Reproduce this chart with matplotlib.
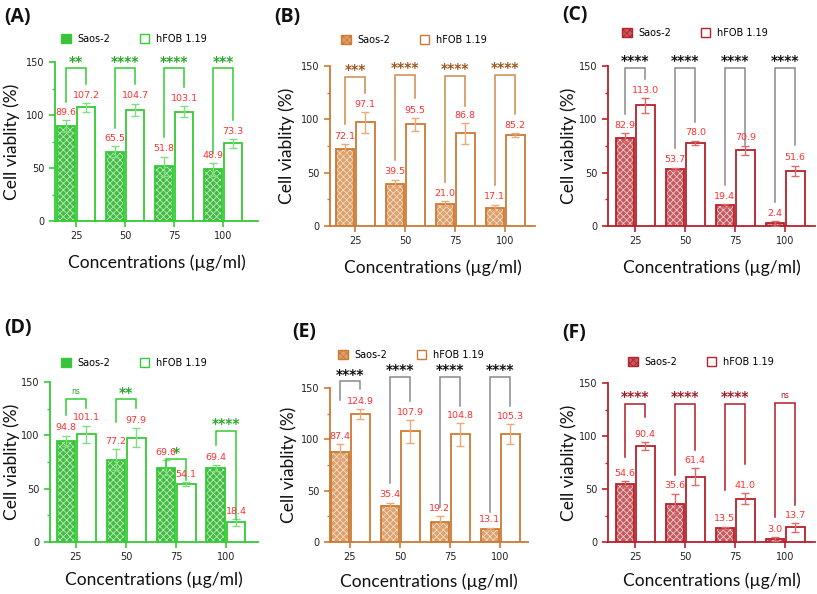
import matplotlib
matplotlib.use("Agg")
import matplotlib.pyplot as plt
from matplotlib.patches import Patch
from matplotlib.ticker import MultipleLocator
import numpy as np

plt.rcParams['hatch.linewidth'] = 0.6

# ---------------- data ----------------
conc = ['25', '50', '75', '100']

A_saos = [89.6, 65.5, 51.8, 48.9]
A_saos_err = [5.5, 5, 9, 6]
A_hfob = [107.2, 104.7, 103.1, 73.3]
A_hfob_err = [4, 6, 5, 4]
A_sig = ['**', '****', '****', '***']
A_brk_top = [144, 144, 144, 144]
A_brk_left = [112.5, 88, 79.5, 64]
A_brk_right = [129, 129, 126, 95]

B_saos = [72.1, 39.5, 21.0, 17.1]
B_saos_err = [5, 4, 2, 3]
B_hfob = [97.1, 95.5, 86.8, 85.2]
B_hfob_err = [10, 6, 10, 2]
B_sig = ['***', '****', '****', '****']
B_brk_top = [140, 141.5, 140.6, 142]
B_brk_left = [96, 62, 41.6, 38.4]
B_brk_right = [125, 120, 112.8, 104.7]

C_saos = [82.9, 53.7, 19.4, 2.4]
C_saos_err = [4, 1, 1.5, 2]
C_hfob = [113.0, 78.0, 70.9, 51.6]
C_hfob_err = [7, 2, 4.5, 5]
C_sig = ['****', '****', '****', '****']
C_brk_top = [148, 148, 148, 148]
C_brk_left = [104.7, 72.8, 38.4, 22.8]
C_brk_right = [137.8, 97.8, 76, 76]

D_saos = [94.8, 77.2, 69.6, 69.4]
D_saos_err = [5, 10, 7, 3]
D_hfob = [101.1, 97.9, 54.1, 18.4]
D_hfob_err = [8, 9, 2, 3]
D_sig = ['ns', '**', '*', '****']
D_brk_top = [133.7, 133.7, 77.5, 104]
D_brk_left = [119, 112.8, 70.6, 91]
D_brk_right = [126, 125.3, 58, 22]

E_saos = [87.4, 35.4, 19.2, 13.1]
E_saos_err = [8, 3, 6, 1]
E_hfob = [124.9, 107.9, 104.8, 105.3]
E_hfob_err = [5, 11, 11, 10]
E_sig = ['****', '****', '****', '****']
E_brk_top = [156.5, 160.7, 160.7, 160.7]
E_brk_left = [138.5, 57, 34.2, 29.3]
E_brk_right = [149, 137, 132.5, 132]

F_saos = [54.6, 35.6, 13.5, 3.0]
F_saos_err = [3, 10, 1, 2]
F_hfob = [90.4, 61.4, 41.0, 13.7]
F_hfob_err = [4, 8, 5, 4]
F_sig = ['****', '****', '****', 'ns']
F_brk_top = [130.6, 130.6, 130.6, 131]
F_brk_left = [80.2, 63, 48.8, 23.6]
F_brk_right = [118, 86.5, 74, 34.6]

series_names = ['Saos-2', 'hFOB 1.19']
panel_labels = ['(A)', '(B)', '(C)', '(D)', '(E)', '(F)']

# ---------------- styles ----------------
W, H = 817, 594
fig = plt.figure(figsize=(W / 100, H / 100), dpi=100)

green = dict(main='#33cc33', fill='#44bb44', hatch='#b8ecb8', err='#80dd80',
             brk='#33cc33', star='#2aa82a')
orange = dict(main='#cc7a33', fill='#dca06c', hatch='#f6dcc4', err='#e8aa78',
              brk='#d08a4a', star='#a0561e')
red = dict(main='#b8202c', fill='#c45a60', hatch='#f0c8c8', err='#d86a6a',
           brk='#a8202a', star='#111111')
red_f = dict(red, brk='#b01e28', star='#a01c24')
red_c = dict(red, brk='#8a8a8a', star='#111111')
orange_e = dict(orange, brk='#8a8a8a', star='#111111')

# axes rects in pixel coords: left, right, top, bottom ; xlim ; legend pos ; label pos
panels = [
    dict(data=(A_saos, A_saos_err, A_hfob, A_hfob_err, A_sig, A_brk_top, A_brk_left, A_brk_right),
         col=green, rect=(55, 258, 62, 221), xlim=(-0.43, 3.71), leg=(61, 39), lab=(4, 17), ylab=12, xlab=263),
    dict(data=(B_saos, B_saos_err, B_hfob, B_hfob_err, B_sig, B_brk_top, B_brk_left, B_brk_right),
         col=orange, rect=(330, 535, 66, 226), xlim=(-0.5, 3.6), leg=(341, 40), lab=(274, 17), ylab=287, xlab=268),
    dict(data=(C_saos, C_saos_err, C_hfob, C_hfob_err, C_sig, C_brk_top, C_brk_left, C_brk_right),
         col=red_c, rect=(608, 815, 66, 226), xlim=(-0.54, 3.6), leg=(622, 33), lab=(562, 15), ylab=569, xlab=268),
    dict(data=(D_saos, D_saos_err, D_hfob, D_hfob_err, D_sig, D_brk_top, D_brk_left, D_brk_right),
         col=green, rect=(50, 258, 382, 542), xlim=(-0.52, 3.64), leg=(61, 363), lab=(4, 328), ylab=12, xlab=580),
    dict(data=(E_saos, E_saos_err, E_hfob, E_hfob_err, E_sig, E_brk_top, E_brk_left, E_brk_right),
         col=orange_e, rect=(330, 528, 388, 542), xlim=(-0.4, 3.56), leg=(338, 355), lab=(292, 332), ylab=289, xlab=582),
    dict(data=(F_saos, F_saos_err, F_hfob, F_hfob_err, F_sig, F_brk_top, F_brk_left, F_brk_right),
         col=red_f, rect=(608, 815, 383, 542), xlim=(-0.54, 3.6), leg=(628, 362), lab=(562, 333), ylab=569, xlab=581),
]

label_font = 'Lato'
bw = 0.37
off = 0.205

for i, p in enumerate(panels):
    saos, saos_e, hfob, hfob_e, sig, btop, bleft, bright = p['data']
    c = p['col']
    l, r, t, b = p['rect']
    ax = fig.add_axes([l / W, 1 - b / H, (r - l) / W, (b - t) / H])
    x = np.arange(len(conc))
    xs = x - off
    xh = x + off
    # Saos-2 bars (hatched)
    ax.bar(xs, saos, bw, facecolor=c['fill'], edgecolor=c['hatch'], hatch='xxxxx', linewidth=0, zorder=2)
    ax.bar(xs, saos, bw, facecolor='none', edgecolor=c['main'], linewidth=1.3, zorder=3)
    # hFOB bars
    ax.bar(xh, hfob, bw, facecolor='white', edgecolor=c['main'], linewidth=1.3, zorder=3)
    ax.errorbar(xs, saos, yerr=saos_e, fmt='none', ecolor=c['err'], elinewidth=1.0, capsize=3.2, capthick=1.0, zorder=4)
    ax.errorbar(xh, hfob, yerr=hfob_e, fmt='none', ecolor=c['err'], elinewidth=1.0, capsize=3.2, capthick=1.0, zorder=4)
    for j in range(len(conc)):
        ax.text(xs[j], saos[j] + saos_e[j] + 3, f'{saos[j]:.1f}', ha='center', va='bottom',
                color='#ff3030', fontsize=6.8, family='DejaVu Sans', zorder=6, clip_on=False)
        ax.text(xh[j], hfob[j] + hfob_e[j] + 3, f'{hfob[j]:.1f}', ha='center', va='bottom',
                color='#ff3030', fontsize=6.8, family='DejaVu Sans', zorder=6, clip_on=False)
        ax.plot([xs[j], xs[j], xh[j], xh[j]], [bleft[j], btop[j], btop[j], bright[j]],
                color=c['brk'], lw=1.1, clip_on=False, zorder=5, solid_joinstyle='miter')
        if sig[j] == 'ns':
            ax.text(x[j], btop[j] + 5, 'ns', ha='center', va='baseline', color=c['star'],
                    fontsize=5.5, family='DejaVu Sans', clip_on=False)
        else:
            ax.text(x[j], btop[j] + 2.5, sig[j], ha='center', va='baseline', color=c['star'],
                    fontsize=10, fontweight='bold', family='DejaVu Sans', clip_on=False)
    ax.set_xlim(*p['xlim'])
    ax.set_ylim(0, 150)
    ax.set_yticks([0, 50, 100, 150])
    ax.yaxis.set_minor_locator(MultipleLocator(25))
    ax.set_xticks(x)
    ax.set_xticklabels(conc)
    for lbl in ax.get_xticklabels() + ax.get_yticklabels():
        lbl.set_fontfamily('DejaVu Sans')
        lbl.set_fontsize(7)
        lbl.set_color('#222222')
    ax.tick_params(axis='both', which='major', color=c['main'], width=1.2, length=4)
    ax.tick_params(axis='y', which='minor', color=c['main'], width=1.0, length=2.5)
    ax.tick_params(axis='x', which='major', pad=3)
    for s in ['top', 'right']:
        ax.spines[s].set_visible(False)
    for s in ['left', 'bottom']:
        ax.spines[s].set_color(c['main'])
        ax.spines[s].set_linewidth(1.3)
    # x label at fixed pixel y
    fig.text(((l + r) / 2) / W, 1 - p['xlab'] / H, 'Concentrations (µg/ml)', ha='center', va='center',
             family=label_font, fontsize=12.5, color='#111111')
    # y label at fixed pixel x
    fig.text(p['ylab'] / W, 1 - ((t + b) / 2) / H, 'Cell viablity (%)', rotation=90, ha='center',
             va='center', family=label_font, fontsize=12.5, color='#111111')
    # panel label
    fig.text(p['lab'][0] / W, 1 - p['lab'][1] / H, panel_labels[i], ha='left', va='center',
             family='Open Sans', fontweight='bold', fontsize=14, color='#111111')
    # legend
    handles = [Patch(facecolor=c['fill'], edgecolor=c['main'], hatch='xxxxx', linewidth=1.0),
               Patch(facecolor='white', edgecolor=c['main'], linewidth=1.0)]
    leg = ax.legend(handles, series_names, loc='center left', ncol=2, frameon=False,
                    bbox_to_anchor=(p['leg'][0] / W, 1 - p['leg'][1] / H), bbox_transform=fig.transFigure,
                    prop=dict(family='DejaVu Sans', size=7), handlelength=1.0, handleheight=1.0,
                    handletextpad=0.7, columnspacing=3.0, borderpad=0, borderaxespad=0)

fig.savefig('out.png', dpi=100)
